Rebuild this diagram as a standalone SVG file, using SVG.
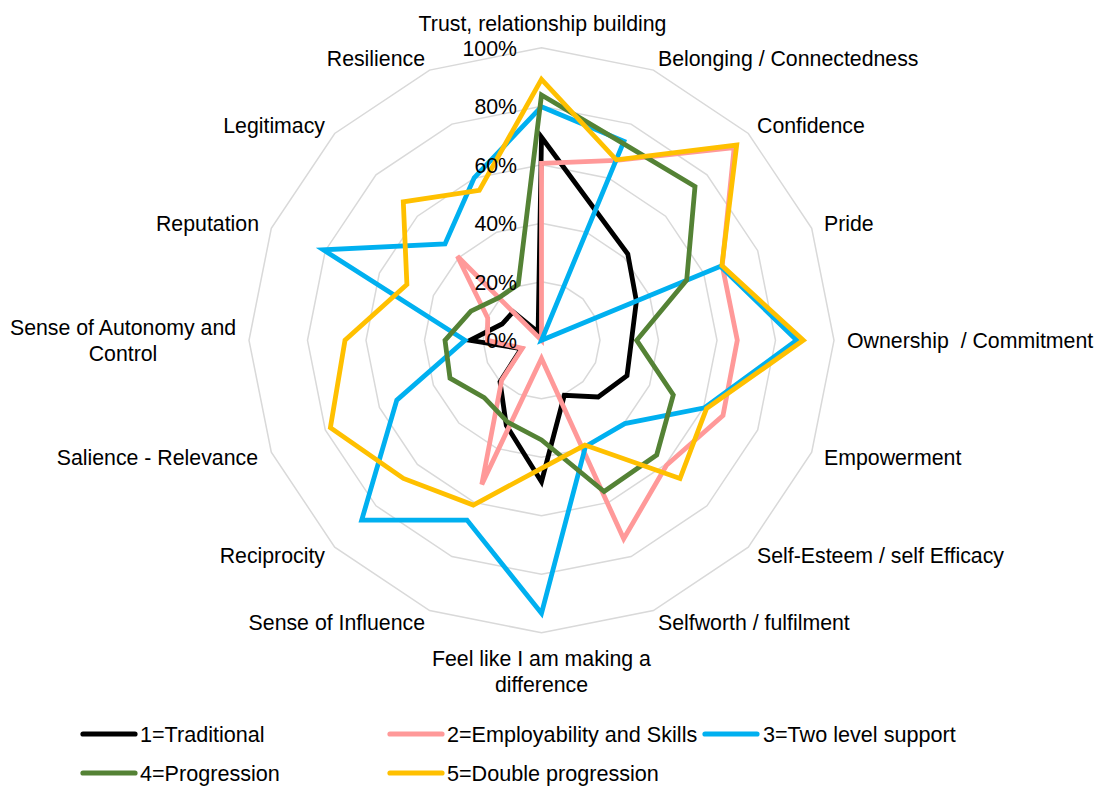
<svg xmlns="http://www.w3.org/2000/svg" width="1098" height="787" viewBox="0 0 1098 787">
<style>
text{font-family:"Liberation Sans",Arial,sans-serif;font-size:21.3px;fill:#000}
#legend text{font-size:21.6px}
.grid{fill:none;stroke:#d9d9d9;stroke-width:1.5}
.s{fill:none;stroke-width:4.8;stroke-linejoin:miter;stroke-linecap:round}
.lg{stroke-width:5.2;stroke-linecap:round}
.k{stroke:#000000}.p{stroke:#ff9999}.b{stroke:#00b0f0}.g{stroke:#548235}.y{stroke:#ffc000}
.e{text-anchor:end}.m{text-anchor:middle}
</style>
<rect width="1098" height="787" fill="#ffffff"/>
<g id="grid">
<polygon class="grid" points="541.5,47.8 653.4,70.1 748.3,133.5 811.7,228.4 834,340.3 811.7,452.2 748.3,547.1 653.4,610.5 541.5,632.8 429.6,610.5 334.7,547.1 271.3,452.2 249,340.3 271.3,228.4 334.7,133.5 429.6,70.1"/>
<polygon class="grid" points="541.5,106.3 631.1,124.1 707,174.8 757.7,250.7 775.5,340.3 757.7,429.9 707,505.8 631.1,556.5 541.5,574.3 451.9,556.5 376,505.8 325.3,429.9 307.5,340.3 325.3,250.7 376,174.8 451.9,124.1"/>
<polygon class="grid" points="541.5,164.8 608.7,178.2 665.6,216.2 703.6,273.1 717,340.3 703.6,407.5 665.6,464.4 608.7,502.4 541.5,515.8 474.3,502.4 417.4,464.4 379.4,407.5 366,340.3 379.4,273.1 417.4,216.2 474.3,178.2"/>
<polygon class="grid" points="541.5,223.3 586.3,232.2 624.2,257.6 649.6,295.5 658.5,340.3 649.6,385.1 624.2,423 586.3,448.4 541.5,457.3 496.7,448.4 458.8,423 433.4,385.1 424.5,340.3 433.4,295.5 458.8,257.6 496.7,232.2"/>
<polygon class="grid" points="541.5,281.8 563.9,286.3 582.9,298.9 595.5,317.9 600,340.3 595.5,362.7 582.9,381.7 563.9,394.3 541.5,398.8 519.1,394.3 500.1,381.7 487.5,362.7 483,340.3 487.5,317.9 500.1,298.9 519.1,286.3"/>
</g>
<g id="series">
<polygon id="s1" class="s k" points="541.5,137.3 595.4,210.2 627.8,254 636.4,301 631.5,340.3 627,375.7 598.2,397 564.3,395.3 541.5,481.7 506.3,425.3 500,381.7 521.2,348.7 470,340.3 502.1,324 513.1,311.9 538.1,332"/>
<polygon id="s2" class="s p" points="541.5,163.3 616,160.4 734.2,147.6 722.2,265.4 737.3,340.3 723,415.5 666.5,465.3 623.7,538.8 541.5,358.5 481.8,484.4 501.7,380.1 522.3,348.3 487.5,340.3 487.7,318 457.4,256.2 541.5,340.3"/>
<polygon id="s3" class="s b" points="541.5,106.7 623.9,141.3 541.5,340.3 720.5,266.2 796.7,340.3 704.6,407.8 624.8,423.6 585.5,446.5 541.5,613.3 467,520.1 361.7,520.1 396.8,400.2 465,340.3 323.4,249.9 445,244 474.2,177.8"/>
<polygon id="s4" class="s g" points="541.5,95 623,143.4 695,186.5 686.7,280.1 636.7,340.3 673.3,394.9 656.7,455 604.1,491.5 541.5,440 507.6,422.1 484.2,397.6 450,378.2 445,340.3 470.9,311.1 498.9,297.7 518.3,284.3"/>
<polygon id="s5" class="s y" points="541.5,79.3 616.3,159.8 736.7,145 721.9,265.6 803.3,340.3 706.5,408.6 680,478.5 584.9,445.1 541.5,468.4 473.3,505 403.4,478.4 330.4,427.7 345,340.3 406.9,284.5 403.3,201.8 479.3,190.3"/>
</g>
<g id="scale">
<text class="e" x="517" y="55.5">100%</text>
<text class="e" x="517" y="114">80%</text>
<text class="e" x="517" y="172.5">60%</text>
<text class="e" x="517" y="231">40%</text>
<text class="e" x="517" y="289.5">20%</text>
<text class="e" x="517" y="348">0%</text>
</g>
<g id="axis-labels">
<text id="l0" class="m" x="542.5" y="30.5">Trust, relationship building</text>
<text id="l1" x="658" y="65.5">Belonging / Connectedness</text>
<text id="l2" x="757" y="132.5">Confidence</text>
<text id="l3" x="824" y="230.5">Pride</text>
<text id="l4" x="847" y="347.5" xml:space="preserve">Ownership  / Commitment</text>
<text id="l5" x="824" y="464.5">Empowerment</text>
<text id="l6" x="757" y="562.5">Self-Esteem / self Efficacy</text>
<text id="l7" x="658" y="629.5">Selfworth / fulfilment</text>
<text id="l8" class="m" x="541.5" y="666"><tspan x="541.5">Feel like I am making a</tspan><tspan x="541.5" dy="25.5">difference</tspan></text>
<text id="l9" class="e" x="425" y="629.5">Sense of Influence</text>
<text id="l10" class="e" x="325" y="562.5">Reciprocity</text>
<text id="l11" class="e" x="258" y="464.5">Salience - Relevance</text>
<text id="l12" class="m" x="123" y="335"><tspan x="123">Sense of Autonomy and</tspan><tspan x="123" dy="26">Control</tspan></text>
<text id="l13" class="e" x="259" y="230.5">Reputation</text>
<text id="l14" class="e" x="325" y="132.5">Legitimacy</text>
<text id="l15" class="e" x="425" y="65.5">Resilience</text>
</g>
<g id="legend">
<line class="lg k" x1="83" y1="734" x2="135" y2="734"/>
<text x="140" y="741.5">1=Traditional</text>
<line class="lg p" x1="390" y1="734" x2="442" y2="734"/>
<text x="447" y="741.5">2=Employability and Skills</text>
<line class="lg b" x1="705" y1="734" x2="757" y2="734"/>
<text x="763" y="741.5">3=Two level support</text>
<line class="lg g" x1="83" y1="773" x2="135" y2="773"/>
<text x="140" y="780.5">4=Progression</text>
<line class="lg y" x1="390" y1="773" x2="442" y2="773"/>
<text x="447" y="780.5">5=Double progression</text>
</g>
</svg>
